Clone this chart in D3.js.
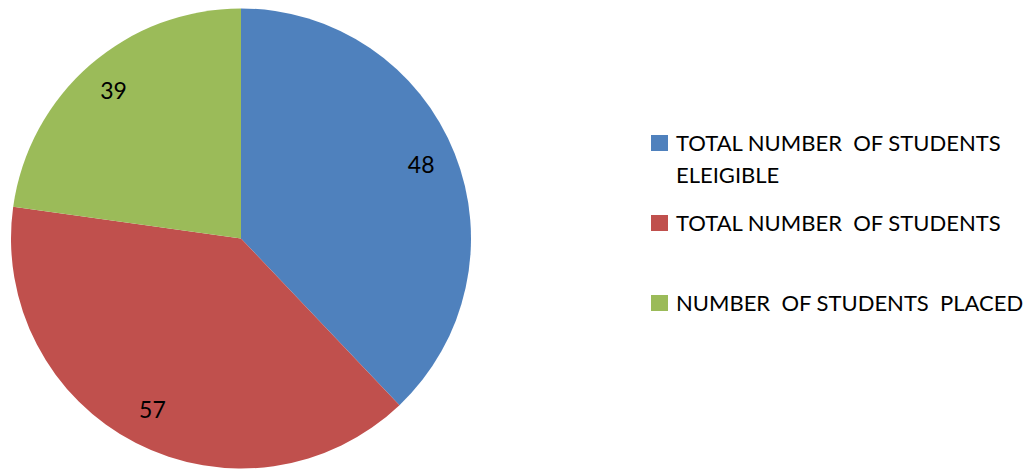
<!DOCTYPE html>
<html>
<head>
<meta charset="utf-8">
<script src="https://cdn.jsdelivr.net/npm/d3@7"></script>
<style>
  body { margin: 0; background: #fff; }
  svg { display: block; font-family: Lato, "Open Sans", sans-serif; }
</style>
</head>
<body>
<svg id="chart"></svg>
<script>
// slice labels as printed on the chart
const categories = ["TOTAL NUMBER  OF STUDENTS ELEIGIBLE", "TOTAL NUMBER  OF STUDENTS", "NUMBER  OF STUDENTS  PLACED"];
const legendLines = [["TOTAL NUMBER  OF STUDENTS", "ELEIGIBLE"], ["TOTAL NUMBER  OF STUDENTS"], ["NUMBER  OF STUDENTS  PLACED"]];
const valueLabels = [48, 57, 39];
// slice sizes as drawn (percent of the circle)
const sliceShares = [37.9, 39.3, 22.8];
const colors = ["#4F81BD", "#C0504D", "#9BBB59"];

const width = 1025;
const height = 469;
const center = { x: 241, y: 238.5 };
const radius = 230;

const svg = d3.select("#chart")
    .attr("width", width)
    .attr("height", height);

const color = d3.scaleOrdinal().domain(categories).range(colors);

const pie = d3.pie()
    .sort(null)
    .value((d, i) => sliceShares[i]);

const arc = d3.arc().innerRadius(0).outerRadius(radius);
const labelArc = d3.arc().innerRadius(194).outerRadius(194);

const g = svg.append("g")
    .attr("transform", `translate(${center.x},${center.y})`);

const slices = pie(categories);

g.selectAll("path")
    .data(slices)
    .join("path")
    .attr("d", arc)
    .attr("fill", d => color(d.data));

g.selectAll("text")
    .data(slices)
    .join("text")
    .attr("transform", d => `translate(${labelArc.centroid(d)})`)
    .attr("text-anchor", "middle")
    .attr("dy", "0.3em")
    .style("font-size", "23px")
    .style("fill", "#000")
    .text((d, i) => valueLabels[i]);

// legend
const legendY = d3.scaleOrdinal().domain(categories).range([135, 215, 295]);

const legend = svg.append("g").attr("transform", "translate(651,0)");

const items = legend.selectAll("g")
    .data(categories)
    .join("g")
    .attr("transform", d => `translate(0,${legendY(d)})`);

items.append("rect")
    .attr("width", 17)
    .attr("height", 16)
    .attr("fill", d => color(d));

items.each(function (d, i) {
    const item = d3.select(this);
    legendLines[i].forEach((line, k) => {
        item.append("text")
            .attr("x", 25)
            .attr("y", 16 + k * 32)
            .style("font-size", "22px")
            .style("fill", "#000")
            .style("white-space", "pre")
            .attr("xml:space", "preserve")
            .text(line);
    });
});
</script>
</body>
</html>
